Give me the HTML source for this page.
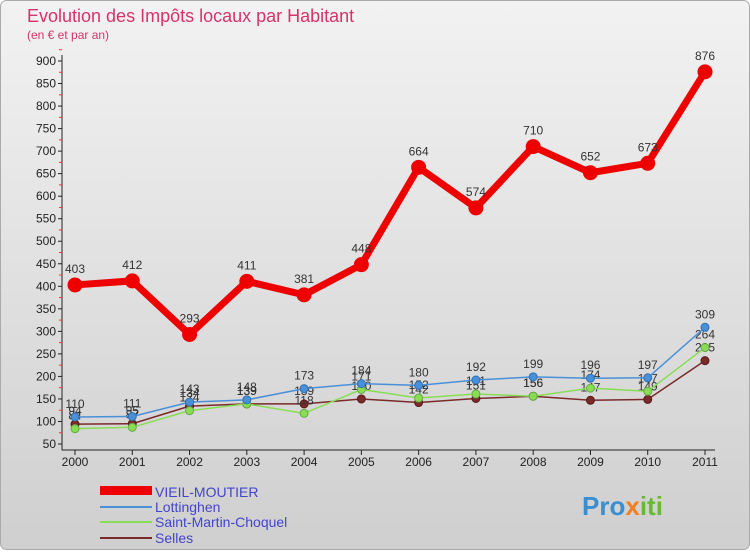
<!DOCTYPE html>
<html><head><meta charset="utf-8"><style>
body{margin:0;width:750px;height:550px;overflow:hidden;font-family:"Liberation Sans",sans-serif}
</style></head><body>
<svg id="c" width="750" height="550" xmlns="http://www.w3.org/2000/svg">
<defs><linearGradient id="bg" x1="0" y1="0" x2="0" y2="1"><stop offset="0" stop-color="#f2f2f2"/><stop offset="1" stop-color="#cfcfcf"/></linearGradient></defs>
<rect x="0.5" y="0.5" width="749" height="549" rx="6" fill="url(#bg)" stroke="#aaa"/>
<text x="27" y="22" font-size="18" fill="#d6336c">Evolution des Impôts locaux par Habitant</text>
<text x="27" y="39" font-size="12" fill="#d6336c">(en € et par an)</text>
<g id="axes"></g><g id="series"></g>
<g>
<rect x="100" y="486" width="52" height="9" fill="#e00"/>
<text x="155" y="497" font-size="14" fill="#44c">VIEIL-MOUTIER</text>
<line x1="100" y1="507" x2="152" y2="507" stroke="#4a90d9" stroke-width="2"/>
<text x="155" y="512" font-size="14" fill="#44c">Lottinghen</text>
<line x1="100" y1="522" x2="152" y2="522" stroke="#88dd55" stroke-width="2"/>
<text x="155" y="527" font-size="14" fill="#44c">Saint-Martin-Choquel</text>
<line x1="100" y1="538" x2="152" y2="538" stroke="#7a2a2a" stroke-width="2"/>
<text x="155" y="543" font-size="14" fill="#44c">Selles</text>
</g>
<text x="582" y="515" font-size="26" font-weight="bold" fill="#3a8fd0">Pro<tspan fill="#f08020">x</tspan><tspan fill="#66bb33">iti</tspan></text>
</svg>
<script>
const years=["2000","2001","2002","2003","2004","2005","2006","2007","2008","2009","2010","2011"];
const yTicks=[50,100,150,200,250,300,350,400,450,500,550,600,650,700,750,800,850,900];
const vieil=[403,412,293,411,381,448,664,574,710,652,673,876];
const lott=[110,111,143,148,173,184,180,192,199,196,197,309];
const smc=[84,87,124,139,118,171,152,161,156,174,167,264];
const selles=[94,95,134,139,139,150,142,151,156,147,149,235];
const NS="http://www.w3.org/2000/svg";
const x=i=>75+i*(630/(years.length-1));
const y=v=>444-(v-50)*(383/850);
function mk(t,a,p){const e=document.createElementNS(NS,t);for(const k in a)e.setAttribute(k,a[k]);p.appendChild(e);return e;}
const ax=document.getElementById('axes'),sg=document.getElementById('series');
const yl=mk('line',{x1:62,y1:55,x2:62,y2:450,stroke:'#222'},ax);


const xl=mk('line',{x1:62,y1:450,x2:715,y2:450,stroke:'#222'},ax);


yTicks.forEach(v=>{
 mk('line',{x1:58,y1:y(v),x2:62,y2:y(v),stroke:'#222'},ax);
 mk('line',{x1:59,y1:y(v+25),x2:62,y2:y(v+25),stroke:'#e33'},ax);
 const t=mk('text',{x:56,y:y(v)+4,'font-size':12,'text-anchor':'end',fill:'#222'},ax);t.textContent=v;
 
 
});
years.forEach((yr,i)=>{
 mk('line',{x1:x(i),y1:450,x2:x(i),y2:455,stroke:'#222'},ax);
 const t=mk('text',{x:x(i),y:466,'font-size':12,'text-anchor':'middle',fill:'#222'},ax);t.textContent=yr;
 
 
});
function series(arr,col,w,r,name,dark){
 const g=mk('g',{},sg);
 
 
 mk('polyline',{points:arr.map((v,i)=>x(i)+','+y(v)).join(' '),fill:'none',stroke:col,'stroke-width':w,'stroke-linejoin':'round'},g);
 arr.forEach((v,i)=>{
  const c=mk('circle',{cx:x(i),cy:y(v),r:r,fill:col,stroke:dark,'stroke-width':1},g);
  
  
  const t=mk('text',{x:x(i),y:y(v)-(r+5),'font-size':12,'text-anchor':'middle',fill:'#333'},g);t.textContent=v;
  
  
 });
}
series(selles,'#7a2a2a',1.5,4,'selles','#5a1a1a');
series(smc,'#88dd55',1.5,4,'saint-martin-choquel','#66aa44');
series(lott,'#4a90d9',1.5,4,'lottinghen','#3070b0');
series(vieil,'#ee0000',7,7,'vieil-moutier','#ee0000');
</script>
</body></html>
